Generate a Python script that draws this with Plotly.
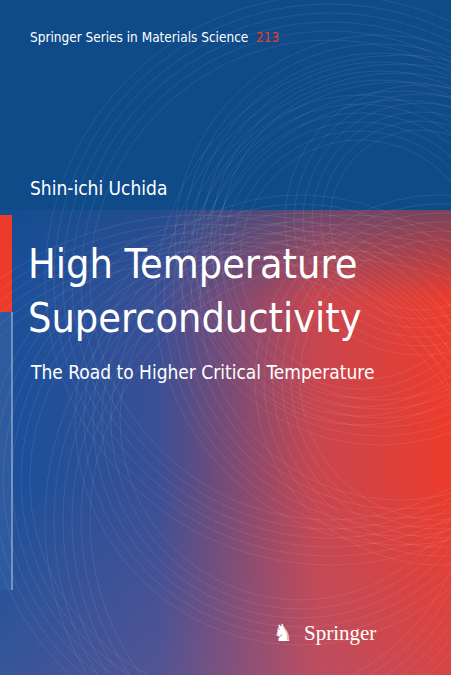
import numpy as np
import plotly.graph_objects as go

W, H = 451, 675

series_name = "Springer Series in Materials Science"
series_no = "213"
author = "Shin-ichi Uchida"
title_lines = ["High Temperature", "Superconductivity"]
subtitle = "The Road to Higher Critical Temperature"
publisher = "Springer"

# decorative arcs: centre x, centre y, radius
arc_cx = [360, 380, 400, 330, 420, 300, 350, 250, 200, 440]
arc_cy = [260, 240, 300, 280, 220, 420, 520, 480, 560, 380]
arc_r = [120, 160, 200, 240, 90, 180, 260, 220, 300, 140]

BLUE = "#0f4a89"
RED = "#ec3b2b"

fig = go.Figure()

def rect(x0, x1, y0, y1, color=None, grad=None):
    fig.add_trace(go.Scatter(
        x=[x0, x1, x1, x0, x0], y=[y0, y0, y1, y1, y0], mode="lines",
        line=dict(width=0), fill="toself",
        fillcolor=color if color else None,
        fillgradient=grad, hoverinfo="skip", showlegend=False))

rect(0, W, 0, H, color=BLUE)
rect(0, W, 210, H, grad=dict(type="horizontal",
     colorscale=[[0, "#17509a"], [0.35, "#3a4f95"], [0.7, "#c8464f"], [1, RED]]))
rect(0, W, 195, 300, grad=dict(type="vertical",
     colorscale=[[0, "rgba(15,74,137,0)"], [1, "rgba(15,74,137,0.6)"]]))
rect(0, W, 480, H, grad=dict(type="vertical",
     colorscale=[[0, "rgba(150,100,150,0.25)"], [1, "rgba(150,100,150,0)"]]))

# left edge strips
rect(0, 12, 215, 312, color=RED)
rect(0, 12, 312, 590, color="#2e5a9f")
rect(11, 13, 312, 590, color="rgba(200,200,220,0.5)")

t = np.linspace(0, 2 * np.pi, 200)
for cx, cy, r in zip(arc_cx, arc_cy, arc_r):
    for k in range(6):
        rr = r + k * 9
        fig.add_trace(go.Scatter(
            x=cx + rr * np.cos(t), y=cy + rr * np.sin(t), mode="lines",
            line=dict(color="rgba(255,255,255,0.12)", width=0.7),
            hoverinfo="skip", showlegend=False))

def txt(x, y, s, size, color="white", family="DejaVu Sans Condensed", yanchor="middle"):
    fig.add_annotation(x=x, y=y, text=s, showarrow=False, xanchor="left",
                       yanchor=yanchor, font=dict(size=size, color=color, family=family))

txt(28, 37, series_name + f"  <span style='color:{RED}'>{series_no}</span>", 13.5)
txt(28, 188, author, 19)
txt(26, 264, title_lines[0], 41)
txt(26, 318, title_lines[1], 41)
txt(28, 372, subtitle, 19)
txt(271, 633, "♞", 24)
txt(302, 633, publisher, 21, family="Liberation Serif")

fig.update_xaxes(range=[0, W], visible=False, fixedrange=True)
fig.update_yaxes(range=[H, 0], visible=False, fixedrange=True)
fig.update_layout(width=W, height=H, margin=dict(l=0, r=0, t=0, b=0),
                  plot_bgcolor=BLUE, paper_bgcolor=BLUE)
fig.write_html("out.html", config={"displayModeBar": False},
               post_script="document.body.style.margin='0';")
